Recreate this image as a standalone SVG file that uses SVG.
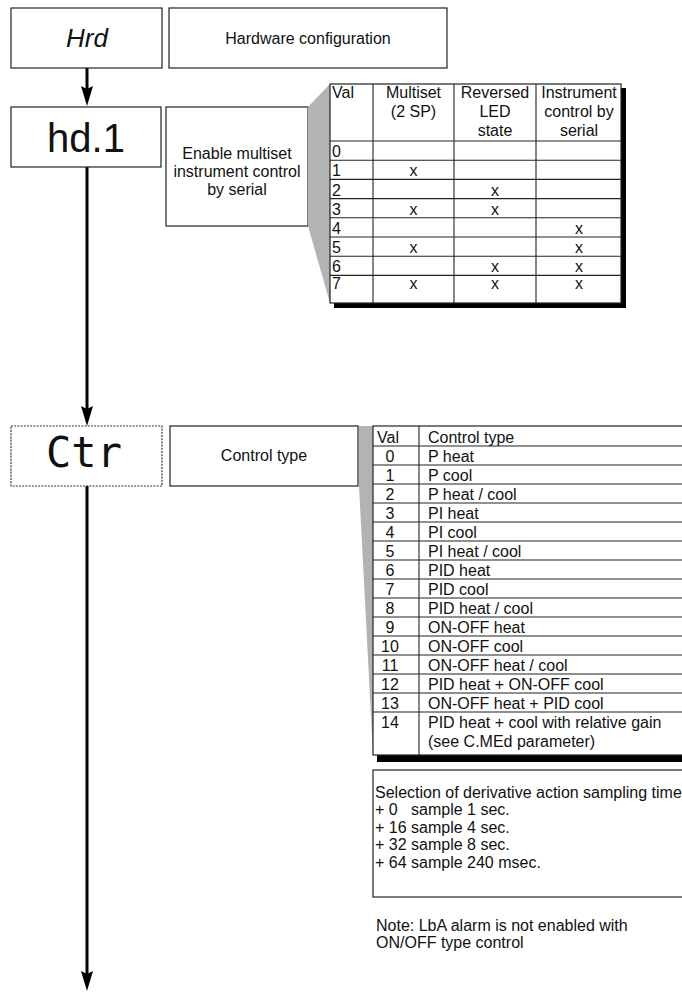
<svg xmlns="http://www.w3.org/2000/svg" width="682" height="992" viewBox="0 0 682 992">
<style>
text{font-family:"Liberation Sans",Arial,sans-serif;font-size:16px;fill:#111}
.box{fill:#fff;stroke:#222;stroke-width:1.2}
.dash{fill:#fff;stroke:#333;stroke-width:1.2;stroke-dasharray:2 1.2}
.tl{stroke:#222;stroke-width:1.1;fill:none}
.tb{fill:#fff;stroke:#222;stroke-width:1.2}
.wedge{fill:#b3b3b3}
.c{text-anchor:middle}
.conn{stroke:#000;stroke-width:3;fill:none}
</style>
<defs>
<marker id="ah" viewBox="0 0 20 12" markerWidth="20" markerHeight="12" refX="12" refY="6" orient="auto" markerUnits="userSpaceOnUse">
<path d="M0,0 L20,6 L0,12 L3,6 z" fill="#000"/>
</marker>
</defs>

<g id="connectors">
<line class="conn" x1="87" y1="68" x2="87" y2="98" marker-end="url(#ah)"/>
<line class="conn" x1="87" y1="167" x2="87" y2="418" marker-end="url(#ah)"/>
<line class="conn" x1="87" y1="486" x2="87" y2="983" marker-end="url(#ah)"/>
</g>

<g id="hrd">
<rect class="box" x="11" y="8" width="151" height="60"/>
<text x="87" y="47" class="c" style="font-size:26px;font-style:italic">Hrd</text>
</g>
<g id="hrd-desc">
<rect class="box" x="169" y="8" width="278" height="60"/>
<text x="308" y="43.5" class="c">Hardware configuration</text>
</g>

<g id="hd1">
<rect class="box" x="11" y="107" width="150" height="60"/>
<text x="86" y="152" class="c" style="font-size:40px">hd.1</text>
</g>
<g id="hd1-desc">
<rect class="box" x="166" y="107" width="142" height="119"/>
<text x="237" y="159" class="c">Enable multiset</text>
<text x="237" y="177" class="c">instrument control</text>
<text x="237" y="195" class="c">by serial</text>
</g>

<g id="hd1-table">
<polygon class="wedge" points="308,107 330,84 330,303 308,226"/>
<rect x="334" y="88" width="292" height="220" fill="#000"/>
<rect class="tb" x="330" y="84" width="291" height="219"/>
<g class="tl">
<line x1="373" y1="84" x2="373" y2="303"/>
<line x1="454" y1="84" x2="454" y2="303"/>
<line x1="536" y1="84" x2="536" y2="303"/>
<line x1="330" y1="141" x2="621" y2="141"/>
<line x1="330" y1="160.2" x2="621" y2="160.2"/>
<line x1="330" y1="179.4" x2="621" y2="179.4"/>
<line x1="330" y1="198.6" x2="621" y2="198.6"/>
<line x1="330" y1="217.8" x2="621" y2="217.8"/>
<line x1="330" y1="237" x2="621" y2="237"/>
<line x1="330" y1="256.2" x2="621" y2="256.2"/>
<line x1="330" y1="275.4" x2="621" y2="275.4"/>
</g>
<text x="332" y="98">Val</text>
<text x="413.5" y="98" class="c">Multiset</text>
<text x="413.5" y="117" class="c">(2 SP)</text>
<text x="495" y="98" class="c">Reversed</text>
<text x="495" y="117" class="c">LED</text>
<text x="495" y="136" class="c">state</text>
<text x="579" y="98" class="c">Instrument</text>
<text x="579" y="117" class="c">control by</text>
<text x="579" y="136" class="c">serial</text>
<text x="332" y="157.2">0</text>
<text x="332" y="176.4">1</text>
<text x="332" y="195.6">2</text>
<text x="332" y="214.8">3</text>
<text x="332" y="234">4</text>
<text x="332" y="253.2">5</text>
<text x="332" y="272.4">6</text>
<text x="332" y="289">7</text>
<text x="413.5" y="176.4" class="c">x</text>
<text x="495" y="195.6" class="c">x</text>
<text x="413.5" y="214.8" class="c">x</text>
<text x="495" y="214.8" class="c">x</text>
<text x="579" y="234" class="c">x</text>
<text x="413.5" y="253.2" class="c">x</text>
<text x="579" y="253.2" class="c">x</text>
<text x="495" y="272.4" class="c">x</text>
<text x="579" y="272.4" class="c">x</text>
<text x="413.5" y="289" class="c">x</text>
<text x="495" y="289" class="c">x</text>
<text x="579" y="289" class="c">x</text>
</g>

<g id="ctr">
<rect class="dash" x="11" y="426" width="151" height="60"/>
<text x="84" y="467" class="c" style="font-family:'DejaVu Sans Mono',monospace;font-size:42px">Ctr</text>
</g>
<g id="ctr-desc">
<rect class="box" x="170" y="426" width="188" height="60"/>
<text x="264" y="461" class="c">Control type</text>
</g>

<g id="ctr-table">
<polygon class="wedge" points="359,426 373,426 373,755 359,486"/>
<rect x="377" y="430" width="320" height="332" fill="#000"/>
<rect class="tb" x="373" y="426" width="320" height="329"/>
<g class="tl">
<line x1="419" y1="426" x2="419" y2="755"/>
<line x1="373" y1="446" x2="693" y2="446"/>
<line x1="373" y1="465" x2="693" y2="465"/>
<line x1="373" y1="484" x2="693" y2="484"/>
<line x1="373" y1="503" x2="693" y2="503"/>
<line x1="373" y1="522" x2="693" y2="522"/>
<line x1="373" y1="541" x2="693" y2="541"/>
<line x1="373" y1="560" x2="693" y2="560"/>
<line x1="373" y1="579" x2="693" y2="579"/>
<line x1="373" y1="598" x2="693" y2="598"/>
<line x1="373" y1="617" x2="693" y2="617"/>
<line x1="373" y1="636" x2="693" y2="636"/>
<line x1="373" y1="655" x2="693" y2="655"/>
<line x1="373" y1="674" x2="693" y2="674"/>
<line x1="373" y1="693" x2="693" y2="693"/>
<line x1="373" y1="712" x2="693" y2="712"/>
</g>
<text x="377" y="443">Val</text>
<text x="428" y="443">Control type</text>
<text x="390" y="462" class="c">0</text><text x="428" y="462">P heat</text>
<text x="390" y="481" class="c">1</text><text x="428" y="481">P cool</text>
<text x="390" y="500" class="c">2</text><text x="428" y="500">P heat / cool</text>
<text x="390" y="519" class="c">3</text><text x="428" y="519">PI heat</text>
<text x="390" y="538" class="c">4</text><text x="428" y="538">PI cool</text>
<text x="390" y="557" class="c">5</text><text x="428" y="557">PI heat / cool</text>
<text x="390" y="576" class="c">6</text><text x="428" y="576">PID heat</text>
<text x="390" y="595" class="c">7</text><text x="428" y="595">PID cool</text>
<text x="390" y="614" class="c">8</text><text x="428" y="614">PID heat / cool</text>
<text x="390" y="633" class="c">9</text><text x="428" y="633">ON-OFF heat</text>
<text x="390" y="652" class="c">10</text><text x="428" y="652">ON-OFF cool</text>
<text x="390" y="671" class="c">11</text><text x="428" y="671">ON-OFF heat / cool</text>
<text x="390" y="690" class="c">12</text><text x="428" y="690">PID heat + ON-OFF cool</text>
<text x="390" y="709" class="c">13</text><text x="428" y="709">ON-OFF heat + PID cool</text>
<text x="390" y="728" class="c">14</text><text x="428" y="728">PID heat + cool with relative gain</text>
<text x="428" y="747">(see C.MEd parameter)</text>
</g>

<g id="sampling">
<rect class="box" x="373" y="770" width="330" height="127"/>
<text x="375" y="798">Selection of derivative action sampling time</text>
<text x="375" y="815" xml:space="preserve">+ 0   sample 1 sec.</text>
<text x="375" y="833">+ 16 sample 4 sec.</text>
<text x="375" y="850">+ 32 sample 8 sec.</text>
<text x="375" y="868">+ 64 sample 240 msec.</text>
</g>

<g id="note">
<text x="376" y="931">Note: LbA alarm is not enabled with</text>
<text x="376" y="948">ON/OFF type control</text>
</g>
</svg>
